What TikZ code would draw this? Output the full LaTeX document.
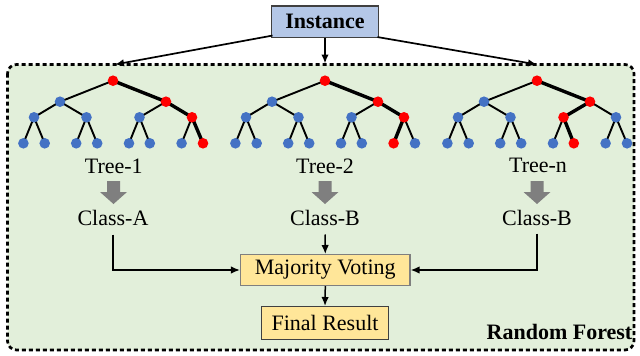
\documentclass[tikz,border=0pt]{standalone}
\usepackage{fontspec}
\setmainfont{Liberation Serif}
\usetikzlibrary{arrows.meta}
\definecolor{forestbg}{HTML}{E2EFDA}
\definecolor{instfill}{HTML}{B4C7E7}
\definecolor{votefill}{HTML}{FFE699}
\definecolor{dotblue}{HTML}{4472C4}
\definecolor{dotred}{HTML}{FF0000}
\definecolor{arrowgray}{HTML}{7F7F7F}
\definecolor{boxline}{HTML}{404040}
\tikzset{
  dot/.style={circle, inner sep=0pt, minimum size=10.6pt, draw=none},
  treeedge/.style={line width=1.9pt},
  hotedge/.style={line width=3.4pt},
  boxnode/.style={draw=boxline, line width=1.4pt, inner sep=0pt, align=center},
  arr/.style={-{Latex[length=9pt,width=7.5pt]}, line width=1.5pt},
  txt/.style={inner sep=0pt, anchor=base},
  garrow/.pic={\fill[arrowgray] (-6.5,0) -- (6.5,0) -- (6.5,11) -- (13.5,11) -- (0,23) -- (-13.5,11) -- (-6.5,11) -- cycle;}
}
\newcommand\rftree[5]{%
  \coordinate (#1r) at (#2,80.7);
  \coordinate (#1a) at (#2-53,101.7);
  \coordinate (#1b) at (#2+53,101.7);
  \coordinate (#1aa) at (#2-79,117.3);
  \coordinate (#1ab) at (#2-26.5,117.3);
  \coordinate (#1ba) at (#2+26.5,117.3);
  \coordinate (#1bb) at (#2+79,117.3);
  \coordinate (#1aaa) at (#2-89.6,143.3);
  \coordinate (#1aab) at (#2-68.3,143.3);
  \coordinate (#1aba) at (#2-36.8,143.3);
  \coordinate (#1abb) at (#2-15.8,143.3);
  \coordinate (#1baa) at (#2+16,143.3);
  \coordinate (#1bab) at (#2+36.8,143.3);
  \coordinate (#1bba) at (#2+68.6,143.3);
  \coordinate (#1bbb) at (#2+90,143.3);
  \foreach \p/\c in {r/a,r/b,a/aa,a/ab,b/ba,b/bb,aa/aaa,aa/aab,ab/aba,ab/abb,ba/baa,ba/bab,bb/bba,bb/bbb}
    {\draw[treeedge] (#1\p) -- (#1\c);}
  \foreach \p/\c in {#3}
    {\draw[hotedge] (#1\p) -- (#1\c);}
  \foreach \n in {#4}
    {\node[dot, fill=dotred] (#1\n-dot) at (#1\n) {};}
  \foreach \n in {#5}
    {\node[dot, fill=dotblue] (#1\n-dot) at (#1\n) {};}
}
\begin{document}
\begin{tikzpicture}[x=1pt, y=-1pt, font=\fontsize{22}{26}\selectfont]
\useasboundingbox (0,0) rectangle (640,356);
% forest frame
\draw[fill=forestbg, line width=2.7pt, dash pattern=on 4pt off 3pt, rounded corners=9pt]
  (7.5,64.5) rectangle (634,350);
% trees
\rftree{t1}{113}{r/b,b/bb,bb/bbb}{r,b,bb,bbb}{a,aa,ab,ba,aaa,aab,aba,abb,baa,bab,bba}
\rftree{t2}{325}{r/b,b/bb,bb/bba}{r,b,bb,bba}{a,aa,ab,ba,aaa,aab,aba,abb,baa,bab,bbb}
\rftree{tn}{537}{r/b,b/ba,ba/bab}{r,b,ba,bab}{a,aa,ab,bb,aaa,aab,aba,abb,baa,bba,bbb}
% instance
\node[boxnode, fill=instfill, minimum width=106.5pt, minimum height=31.3pt, font=\fontsize{22}{26}\selectfont\bfseries] (inst) at (325,21.7) {Instance};
\coordinate (tip1) at (115,64.5);
\coordinate (tip2) at (325,63.5);
\coordinate (tipn) at (537,64.5);
\draw[arr, line width=1.7pt] ([shift={(1.5,-2.5)}]inst.south west) -- (tip1);
\draw[arr, line width=1.7pt] (inst.south) -- (tip2);
\draw[arr, line width=1.7pt] ([shift={(-1.5,-1)}]inst.south east) -- (tipn);
% labels
\node[txt] (tr1) at (113.8,173) {Tree-1};
\node[txt] (tr2) at (325,173) {Tree-2};
\node[txt] (trn) at (538,172) {Tree-n};
\pic at (113.5,181) {garrow};
\pic at (325,181) {garrow};
\pic at (537,181) {garrow};
\node[txt] (clA) at (113,225.5) {Class-A};
\node[txt] (clB) at (325,225.5) {Class-B};
\node[txt] (clN) at (537,225) {Class-B};
% voting
\node[boxnode, draw=arrowgray, fill=votefill, minimum width=169.3pt, minimum height=30.6pt] (mv) at (325.3,270) {Majority Voting};
\node[boxnode, draw=boxline, fill=votefill, minimum width=126.6pt, minimum height=32.6pt] (fr) at (325,323) {Final Result};
\draw[arr] ([yshift=-9pt]clA.base) |- (mv.west);
\draw[arr] ([yshift=-9pt]clB.base) -- (mv.north);
\draw[arr] ([yshift=-8.5pt]clN.base) |- (mv.east);
\draw[arr] (mv.south) -- (fr.north);
% label
\node[txt, anchor=base east, font=\fontsize{22}{26}\selectfont\bfseries] (rf) at (632.5,339.5) {Random Forest};
\end{tikzpicture}
\end{document}
